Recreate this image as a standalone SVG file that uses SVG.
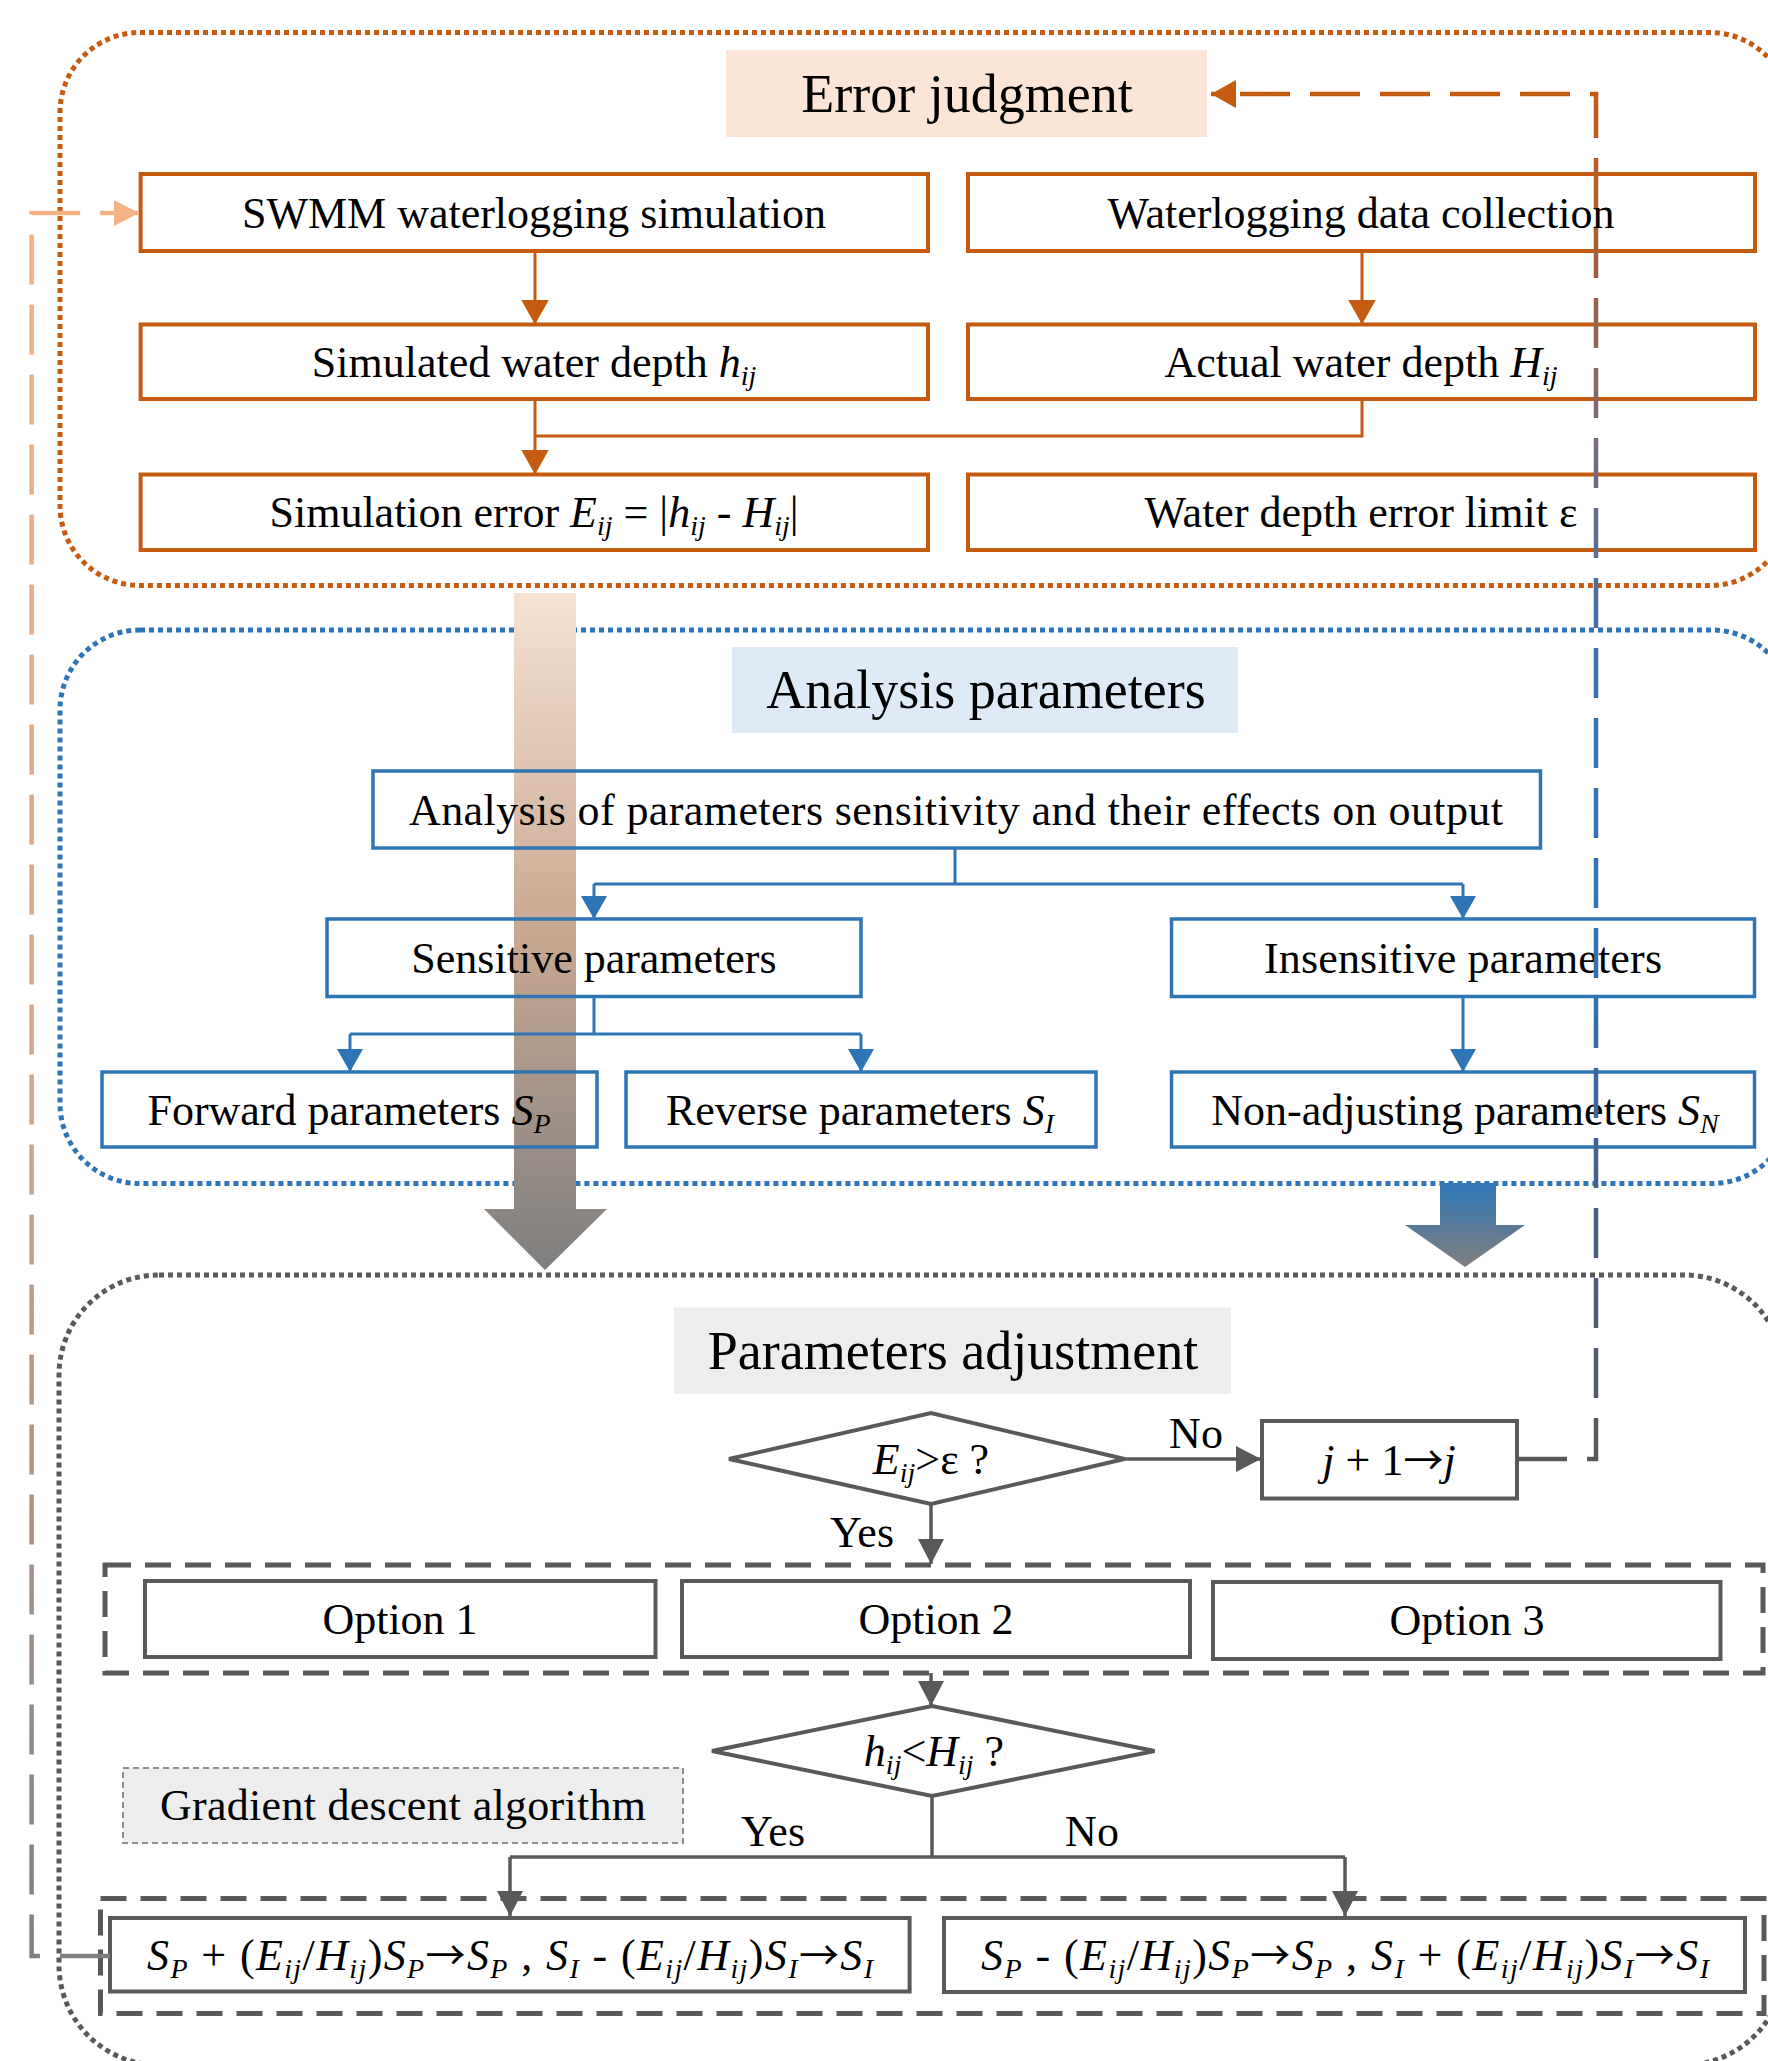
<svg xmlns="http://www.w3.org/2000/svg" width="1768" height="2061" viewBox="0 0 1768 2061">
<style>
.t{font-family:"Liberation Serif","Times New Roman",serif;font-size:44px;fill:#000;text-anchor:middle}
.title{font-size:54px}
.i{font-style:italic}
.sub{font-size:28px;font-style:italic}
.arr{font-family:"Noto Sans CJK SC","DejaVu Sans",sans-serif;font-style:normal;font-size:40px}
.ob{fill:none;stroke:#c55a11;stroke-width:4}
.bb{fill:none;stroke:#2e75b6;stroke-width:3.5}
.gb{fill:none;stroke:#595959;stroke-width:4}
.oc{fill:none;stroke:#c55a11;stroke-width:3}
.bc{fill:none;stroke:#2e75b6;stroke-width:3}
.gc{fill:none;stroke:#595959;stroke-width:3.5}
.dot{fill:none;stroke-width:5;stroke-dasharray:5 4}
.dash{fill:none;stroke:#595959;stroke-width:5;stroke-dasharray:26 14}
</style>
<defs>
<linearGradient id="gL" x1="0" y1="0" x2="0" y2="1">
<stop offset="0" stop-color="#f6e2d2"/>
<stop offset="0.5" stop-color="#c9a892"/>
<stop offset="1" stop-color="#7f7f7f"/>
</linearGradient>
<linearGradient id="gR" x1="0" y1="0" x2="0" y2="1">
<stop offset="0" stop-color="#2e75b6"/>
<stop offset="1" stop-color="#7f7f7f"/>
</linearGradient>
<linearGradient id="fbR" gradientUnits="userSpaceOnUse" x1="0" y1="94" x2="0" y2="1460">
<stop offset="0" stop-color="#c55a11"/>
<stop offset="0.12" stop-color="#a0603a"/>
<stop offset="0.25" stop-color="#7a6a78"/>
<stop offset="0.4" stop-color="#3f70a8"/>
<stop offset="0.6" stop-color="#2e75b6"/>
<stop offset="0.8" stop-color="#44608a"/>
<stop offset="1" stop-color="#595959"/>
</linearGradient>
<linearGradient id="fbL" gradientUnits="userSpaceOnUse" x1="0" y1="213" x2="0" y2="1956">
<stop offset="0" stop-color="#f4b183"/>
<stop offset="0.5" stop-color="#d0a88c"/>
<stop offset="1" stop-color="#7f7f7f"/>
</linearGradient>
<marker id="ao" markerUnits="userSpaceOnUse" markerWidth="28" markerHeight="28" refX="25" refY="14" orient="auto"><path d="M0,0 L25,14 L0,28 z" fill="#c55a11"/></marker>
<marker id="ab" markerUnits="userSpaceOnUse" markerWidth="26" markerHeight="26" refX="23" refY="13" orient="auto"><path d="M0,0 L23,13 L0,26 z" fill="#2e75b6"/></marker>
<marker id="ag" markerUnits="userSpaceOnUse" markerWidth="26" markerHeight="26" refX="25" refY="13" orient="auto"><path d="M0,0 L25,13 L0,26 z" fill="#595959"/></marker>
<marker id="ap" markerUnits="userSpaceOnUse" markerWidth="26" markerHeight="26" refX="25" refY="13" orient="auto"><path d="M0,0 L25,13 L0,26 z" fill="#f4b183"/></marker>
</defs>

<!-- containers -->
<g id="containers">
<rect class="dot" x="60" y="32.5" width="1730" height="553" rx="80" ry="80" stroke="#c55a11"/>
<rect class="dot" x="60" y="630" width="1732" height="553.5" rx="80" ry="80" stroke="#2e75b6"/>
<rect class="dot" x="59" y="1275" width="1725" height="790" rx="100" ry="100" stroke="#595959"/>
</g>

<!-- big flow arrows -->
<g id="bigArrows">
<path d="M514,593 H576 V1209 H607 L545,1270 L484,1209 H514 Z" fill="url(#gL)"/>
<path d="M1440,1183 H1496 V1225 H1525 L1465,1267 L1405,1225 H1440 Z" fill="url(#gR)"/>
</g>

<!-- Error judgment section -->
<g id="n-error-judgment"><rect x="726" y="50" width="481" height="87" fill="#fbe5d6"/><text class="t title" x="967" y="112">Error judgment</text></g>
<g id="n-swmm"><rect class="ob" x="140.6" y="174" width="787.4" height="77"/><text class="t" x="534" y="228">SWMM waterlogging simulation</text></g>
<g id="n-collection"><rect class="ob" x="968" y="174" width="787" height="77"/><text class="t" x="1361" y="228">Waterlogging data collection</text></g>
<g id="n-sim-depth"><rect class="ob" x="140.6" y="324.5" width="787.4" height="74.5"/><text class="t" x="534" y="377">Simulated water depth <tspan class="i">h</tspan><tspan class="sub" dy="8">ij</tspan></text></g>
<g id="n-act-depth"><rect class="ob" x="968" y="324.5" width="787" height="74.5"/><text class="t" x="1361" y="377">Actual water depth <tspan class="i">H</tspan><tspan class="sub" dy="8">ij</tspan></text></g>
<g id="n-sim-error"><rect class="ob" x="140.6" y="474.5" width="787.4" height="75.5"/><text class="t" x="534" y="527">Simulation error <tspan class="i">E</tspan><tspan class="sub" dy="8">ij</tspan><tspan dy="-8"> = |</tspan><tspan class="i">h</tspan><tspan class="sub" dy="8">ij</tspan><tspan dy="-8"> - </tspan><tspan class="i">H</tspan><tspan class="sub" dy="8">ij</tspan><tspan dy="-8">|</tspan></text></g>
<g id="n-limit"><rect class="ob" x="968" y="474.5" width="787" height="75.5"/><text class="t" x="1361" y="527">Water depth error limit ε</text></g>

<!-- Analysis parameters section -->
<g id="n-analysis-title"><rect x="732" y="647" width="506" height="86" fill="#deebf7"/><text class="t title" x="986" y="708">Analysis parameters</text></g>
<g id="n-analysis"><rect class="bb" x="373" y="771" width="1167.5" height="77"/><text class="t" x="956" y="825" textLength="1094" lengthAdjust="spacing">Analysis of parameters sensitivity and their effects on output</text></g>
<g id="n-sensitive"><rect class="bb" x="327" y="919" width="534" height="77.5"/><text class="t" x="594" y="973">Sensitive parameters</text></g>
<g id="n-insensitive"><rect class="bb" x="1171.5" y="919" width="583" height="77.5"/><text class="t" x="1463" y="973" textLength="398" lengthAdjust="spacing">Insensitive parameters</text></g>
<g id="n-forward"><rect class="bb" x="102" y="1072" width="495" height="75"/><text class="t" x="349" y="1125">Forward parameters <tspan class="i">S</tspan><tspan class="sub" dy="8">P</tspan></text></g>
<g id="n-reverse"><rect class="bb" x="626" y="1072" width="470" height="75"/><text class="t" x="860" y="1125">Reverse parameters <tspan class="i">S</tspan><tspan class="sub" dy="8">I</tspan></text></g>
<g id="n-nonadj"><rect class="bb" x="1171.5" y="1072" width="583" height="75"/><text class="t" x="1465" y="1125">Non-adjusting parameters <tspan class="i">S</tspan><tspan class="sub" dy="8">N</tspan></text></g>

<!-- Parameters adjustment section -->
<g id="n-adj-title"><rect x="674" y="1307.5" width="557" height="86.5" fill="#ededed"/><text class="t title" x="953" y="1369">Parameters adjustment</text></g>
<g id="n-dec1"><polygon class="gb" points="729,1459 931,1413 1124.5,1459 931,1504"/><text class="t" x="931" y="1474"><tspan class="i">E</tspan><tspan class="sub" dy="8">ij</tspan><tspan dy="-8">&gt;ε ?</tspan></text></g>
<g id="n-jbox"><rect class="gb" x="1262" y="1421" width="255" height="77.5"/><text class="t" x="1389" y="1475"><tspan class="i">j</tspan> + 1<tspan class="arr">→</tspan><tspan class="i">j</tspan></text></g>
<g id="n-options"><rect class="dash" x="105" y="1565" width="1658" height="108"/></g>
<g id="n-opt1"><rect class="gb" x="145" y="1581" width="510.5" height="76"/><text class="t" x="400" y="1634">Option 1</text></g>
<g id="n-opt2"><rect class="gb" x="682" y="1581" width="508" height="76"/><text class="t" x="936" y="1634">Option 2</text></g>
<g id="n-opt3"><rect class="gb" x="1213" y="1582" width="507.5" height="77"/><text class="t" x="1467" y="1635">Option 3</text></g>
<g id="n-dec2"><polygon class="gb" points="712,1751 932,1706 1154.5,1751 932,1796"/><text class="t" x="934" y="1766"><tspan class="i">h</tspan><tspan class="sub" dy="8">ij</tspan><tspan dy="-8">&lt;</tspan><tspan class="i">H</tspan><tspan class="sub" dy="8">ij</tspan><tspan dy="-8"> ?</tspan></text></g>
<g id="n-gradient"><rect x="123" y="1768" width="560" height="75" fill="#ededed" stroke="#8c8c8c" stroke-width="2" stroke-dasharray="6 4"/><text class="t" x="403" y="1820" textLength="486" lengthAdjust="spacing">Gradient descent algorithm</text></g>
<g id="n-formulas"><rect class="dash" x="100.5" y="1898.5" width="1663.5" height="115"/></g>
<g id="n-formula1"><rect class="gb" x="110" y="1918" width="799.6" height="73.5"/><text class="t" x="510" y="1970" textLength="726" lengthAdjust="spacing"><tspan class="i">S</tspan><tspan class="sub" dy="8">P</tspan><tspan dy="-8"> + (</tspan><tspan class="i">E</tspan><tspan class="sub" dy="8">ij</tspan><tspan dy="-8">/</tspan><tspan class="i">H</tspan><tspan class="sub" dy="8">ij</tspan><tspan dy="-8">)</tspan><tspan class="i">S</tspan><tspan class="sub" dy="8">P</tspan><tspan class="arr" dy="-8">→</tspan><tspan class="i">S</tspan><tspan class="sub" dy="8">P</tspan><tspan dy="-8"> , </tspan><tspan class="i">S</tspan><tspan class="sub" dy="8">I</tspan><tspan dy="-8"> - (</tspan><tspan class="i">E</tspan><tspan class="sub" dy="8">ij</tspan><tspan dy="-8">/</tspan><tspan class="i">H</tspan><tspan class="sub" dy="8">ij</tspan><tspan dy="-8">)</tspan><tspan class="i">S</tspan><tspan class="sub" dy="8">I</tspan><tspan class="arr" dy="-8">→</tspan><tspan class="i">S</tspan><tspan class="sub" dy="8">I</tspan></text></g>
<g id="n-formula2"><rect class="gb" x="944" y="1918" width="801" height="74"/><text class="t" x="1345" y="1970" textLength="728" lengthAdjust="spacing"><tspan class="i">S</tspan><tspan class="sub" dy="8">P</tspan><tspan dy="-8"> - (</tspan><tspan class="i">E</tspan><tspan class="sub" dy="8">ij</tspan><tspan dy="-8">/</tspan><tspan class="i">H</tspan><tspan class="sub" dy="8">ij</tspan><tspan dy="-8">)</tspan><tspan class="i">S</tspan><tspan class="sub" dy="8">P</tspan><tspan class="arr" dy="-8">→</tspan><tspan class="i">S</tspan><tspan class="sub" dy="8">P</tspan><tspan dy="-8"> , </tspan><tspan class="i">S</tspan><tspan class="sub" dy="8">I</tspan><tspan dy="-8"> + (</tspan><tspan class="i">E</tspan><tspan class="sub" dy="8">ij</tspan><tspan dy="-8">/</tspan><tspan class="i">H</tspan><tspan class="sub" dy="8">ij</tspan><tspan dy="-8">)</tspan><tspan class="i">S</tspan><tspan class="sub" dy="8">I</tspan><tspan class="arr" dy="-8">→</tspan><tspan class="i">S</tspan><tspan class="sub" dy="8">I</tspan></text></g>

<!-- connectors -->
<g id="connectors">
<path class="oc" d="M535,251 V324.5" marker-end="url(#ao)"/>
<path class="oc" d="M1362,251 V324.5" marker-end="url(#ao)"/>
<path class="oc" d="M535,399 V474.5" marker-end="url(#ao)"/>
<path class="oc" d="M1362,399 V436 H535"/>
<path class="bc" d="M955,848 V884"/>
<path class="bc" d="M594,884 H1463"/>
<path class="bc" d="M594,884 V919" marker-end="url(#ab)"/>
<path class="bc" d="M1463,884 V919" marker-end="url(#ab)"/>
<path class="bc" d="M594,996.5 V1034"/>
<path class="bc" d="M350,1034 H861"/>
<path class="bc" d="M350,1034 V1072" marker-end="url(#ab)"/>
<path class="bc" d="M861,1034 V1072" marker-end="url(#ab)"/>
<path class="bc" d="M1463,996.5 V1072" marker-end="url(#ab)"/>
<path class="gc" d="M1124.5,1459 H1261" marker-end="url(#ag)"/>
<path class="gc" d="M931,1504 V1564" marker-end="url(#ag)"/>
<path class="gc" d="M931,1673 V1706" marker-end="url(#ag)"/>
<path class="gc" d="M932,1796 V1857"/>
<path class="gc" d="M510,1857 H1345"/>
<path class="gc" d="M510,1857 V1916" marker-end="url(#ag)"/>
<path class="gc" d="M1345,1857 V1916" marker-end="url(#ag)"/>
<path d="M1517,1459 H1596 V94 H1211" fill="none" stroke="url(#fbR)" stroke-width="4.5" stroke-dasharray="50 20" marker-end="url(#ao)"/>
<path d="M110,1956 H31.6 V213 H139" fill="none" stroke="url(#fbL)" stroke-width="4.5" stroke-dasharray="50 20" marker-end="url(#ap)"/>
<text class="t" x="1196" y="1448">No</text>
<text class="t" x="862" y="1547">Yes</text>
<text class="t" x="773" y="1846">Yes</text>
<text class="t" x="1092" y="1846">No</text>
</g>
</svg>
